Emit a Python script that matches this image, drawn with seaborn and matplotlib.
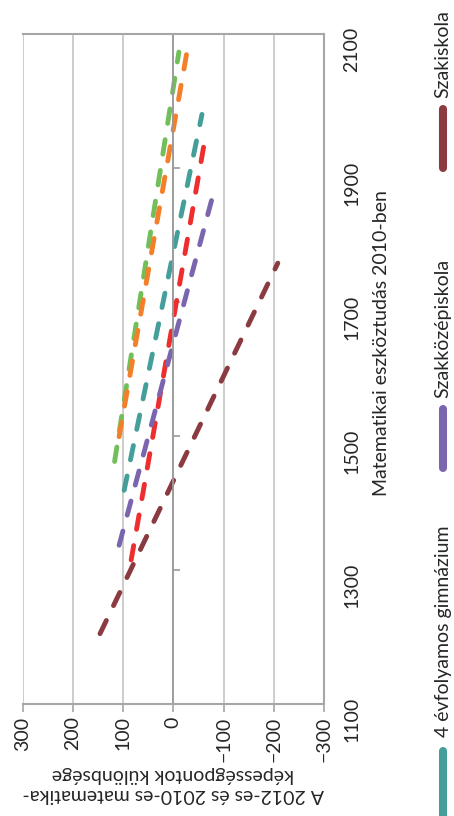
import numpy as np
import pandas as pd
import matplotlib.pyplot as plt
from matplotlib.lines import Line2D
import seaborn as sns

# Regressziós egyenesek végpontjai (2010-es pontszám -> különbség)
series = ["Sorozat 1", "Sorozat 2", "Sorozat 3",
          "4 évfolyamos gimnázium", "Szakközépiskola", "Szakiskola"]
colors = ["#72bf5a", "#f47f2a", "#ee2e2e", "#449e9a", "#7a65ae", "#8b3a3f"]
score_start = [1462, 1499, 1315, 1419, 1337, 1205]
score_end = [2073, 2073, 1943, 1980, 1871, 1758]
diff_start = [117, 108, 84, 98, 108, 146]
diff_end = [-11, -27, -63, -57, -83, -208]

legend_series = ["4 évfolyamos gimnázium", "Szakközépiskola", "Szakiskola"]

diff_ticks = [300, 200, 100, 0, -100, -200, -300]
score_ticks = [1100, 1300, 1500, 1700, 1900, 2100]

x_label = "A 2012-es és 2010-es matematika-\nképességpontok különbsége"
y_label = "Matematikai eszköztudás 2010-ben"


def main():
    sns.set_style("white")
    plt.rcParams["font.family"] = ["Lato", "DejaVu Sans"]
    plt.rcParams["font.size"] = 14

    rows = []
    for s, x0, x1, y0, y1 in zip(series, diff_start, diff_end, score_start, score_end):
        rows.append({"series": s, "diff": x0, "score": y0})
        rows.append({"series": s, "diff": x1, "score": y1})
    df = pd.DataFrame(rows)
    palette = dict(zip(series, colors))

    fig = plt.figure(figsize=(4.54, 8.16), dpi=100)
    ax = fig.add_axes([22.7 / 454, (816 - 704) / 816, 301.3 / 454, 670 / 816])

    sns.lineplot(data=df, x="diff", y="score", hue="series", palette=palette,
                 estimator=None, sort=False, legend=False, linewidth=3.5, ax=ax)
    for line in ax.lines:
        line.set_dashes([3.0, 3.4])
        line.set_dash_capstyle("round")
        line.set_solid_capstyle("round")

    ax.set_xlim(300, -300)
    ax.set_ylim(score_ticks[0], score_ticks[-1])
    ax.set_xticks(diff_ticks)
    ax.set_xticklabels([str(v).replace("-", "\u2212") for v in diff_ticks])
    ax.set_yticks(score_ticks)
    ax.set_yticklabels([str(v) for v in score_ticks])

    ax.grid(axis="x", color="#c8c8c8", lw=1.3)
    ax.grid(axis="y", visible=False)
    ax.set_axisbelow(True)

    for side in ["top", "bottom", "right"]:
        ax.spines[side].set_color("#a6a6a6")
        ax.spines[side].set_linewidth(1.5)
    ax.spines["left"].set_position(("data", 0))
    ax.spines["left"].set_color("#999999")
    ax.spines["left"].set_linewidth(1.3)

    ax.tick_params(axis="y", left=True, right=False, labelleft=False, labelright=True,
                   direction="in", length=5, width=1.2, color="#999999",
                   labelrotation=90, pad=14, labelsize=14)
    ax.tick_params(axis="x", bottom=True, direction="out", length=6, width=1.2,
                   color="#a6a6a6", labelrotation=90, pad=3, labelsize=14)

    ax.set_xlabel(x_label, rotation=180, labelpad=3, fontsize=14)
    ax.yaxis.set_label_position("right")
    ax.set_ylabel(y_label, rotation=90, fontsize=14)
    ax.yaxis.set_label_coords(1.19, 0.539)
    ax.yaxis.label.set_va("center")

    # Jelmagyarázat (elforgatva, mint az eredetin)
    leg_text_y = [0.0968, 0.512, 0.880]
    leg_line_y = [(820, 751), (468, 409), (168, 109)]
    for s, ty, (ly0, ly1) in zip(legend_series, leg_text_y, leg_line_y):
        fig.add_artist(Line2D([0.976, 0.976], [1 - ly0 / 816, 1 - ly1 / 816],
                              transform=fig.transFigure, color=palette[s],
                              lw=5.8, solid_capstyle="round"))
        fig.text(0.976, ty, s, rotation=90, rotation_mode="anchor",
                 ha="left", va="center", fontsize=14)

    plt.savefig("out.png", dpi=100)
    plt.close()


if __name__ == "__main__":
    main()
